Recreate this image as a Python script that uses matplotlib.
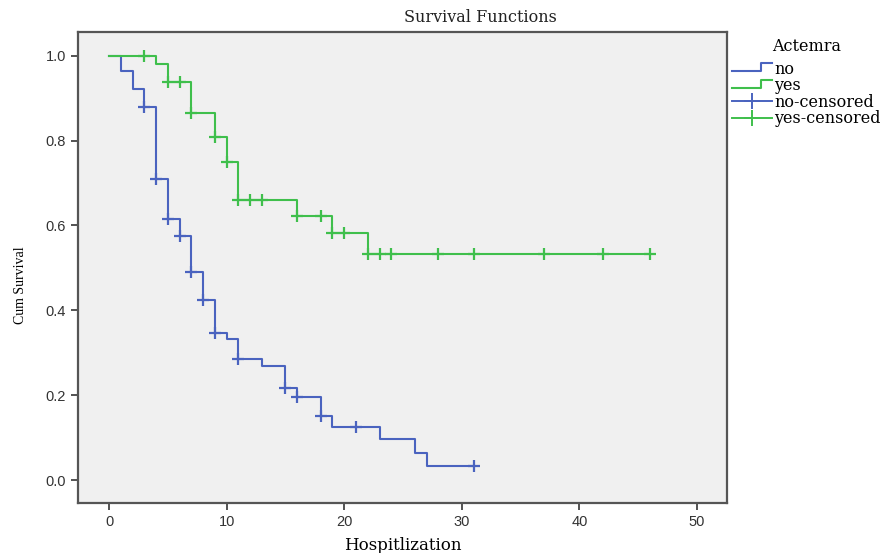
import numpy as np
import matplotlib
matplotlib.use('Agg')
import matplotlib.pyplot as plt
from matplotlib.lines import Line2D
from matplotlib.legend_handler import HandlerBase

plt.rcParams['font.family'] = ['Liberation Sans', 'DejaVu Sans']

# Kaplan-Meier steps
no_t = [0, 1, 2, 3, 4, 5, 6, 7, 8, 9, 10, 11, 13, 15, 16, 18, 19, 23, 26, 27, 31]
no_s = [1.0, 0.965, 0.922, 0.88, 0.71, 0.616, 0.575, 0.49, 0.424, 0.347, 0.332,
        0.285, 0.269, 0.216, 0.195, 0.152, 0.125, 0.096, 0.064, 0.033, 0.033]
no_cens_t = [3, 4, 5, 6, 7, 8, 9, 11, 15, 16, 18, 21, 31]
no_cens_s = [0.88, 0.71, 0.616, 0.575, 0.49, 0.424, 0.347, 0.285, 0.216, 0.195,
             0.152, 0.125, 0.033]

yes_t = [0, 4, 5, 7, 9, 10, 11, 16, 19, 22, 46]
yes_s = [1.0, 0.98, 0.937, 0.864, 0.808, 0.75, 0.66, 0.623, 0.582, 0.533, 0.533]
yes_cens_t = [3, 5, 6, 7, 9, 10, 11, 12, 13, 16, 18, 19, 20, 22, 23, 24, 28, 31, 37, 42, 46]
yes_cens_s = [1.0, 0.937, 0.937, 0.864, 0.808, 0.75, 0.66, 0.66, 0.66, 0.623, 0.623,
              0.582, 0.582, 0.533, 0.533, 0.533, 0.533, 0.533, 0.533, 0.533, 0.533]

x_ticks = [0, 10, 20, 30, 40, 50]
y_ticks = [0.0, 0.2, 0.4, 0.6, 0.8, 1.0]

blue = '#4a63bf'
green = '#3fbf4c'
serif = 'DejaVu Serif'


class StepHandler(HandlerBase):
    # draws the little step symbol used by SPSS for survival lines
    def create_artists(self, legend, orig_handle, xdescent, ydescent,
                       width, height, fontsize, trans):
        x0 = -xdescent
        xs = [x0, x0 + 0.72 * width, x0 + 0.72 * width, x0 + width]
        lo = -ydescent + 0.2 * height
        hi = -ydescent + 0.95 * height
        ln = Line2D(xs, [lo, lo, hi, hi], color=orig_handle.get_color(),
                    lw=orig_handle.get_linewidth())
        ln.set_transform(trans)
        return [ln]


fig = plt.figure(figsize=(8.9, 5.53), dpi=100)
ax = fig.add_axes([78 / 890, 1 - 503 / 553, (727 - 78) / 890, (503 - 32) / 553])
ax.set_facecolor('#f0f0f0')

l_no, = ax.step(no_t, no_s, where='post', color=blue, lw=1.5)
l_yes, = ax.step(yes_t, yes_s, where='post', color=green, lw=1.5)
ax.plot(no_cens_t, no_cens_s, ls='none', marker='+', ms=9, mew=1.6, color=blue)
ax.plot(yes_cens_t, yes_cens_s, ls='none', marker='+', ms=9, mew=1.6, color=green)

ax.set_xlim(-2.64, 52.55)
ax.set_ylim(-0.054, 1.056)
ax.set_xticks(x_ticks)
ax.set_yticks(y_ticks)
ax.set_yticklabels(['%.1f' % v for v in y_ticks])
ax.tick_params(direction='out', length=5, width=1.3, color='#444444',
               labelsize=10.5, labelcolor='#333333')
for sp in ax.spines.values():
    sp.set_color('#555555')
    sp.set_linewidth(1.6)

ax.set_xlabel('Hospitlization', family=serif, fontsize=12, labelpad=6)
ax.set_ylabel('Cum Survival', family='Liberation Serif', fontsize=10)
ax.yaxis.set_label_coords(-0.079, 0.463)
fig.text(480 / 890, 1 - 18 / 553, 'Survival Functions', family=serif,
         fontsize=11.5, ha='center', va='center', color='#222222')

h_nc = Line2D([], [], color=blue, marker='+', ms=11, mew=1.4, lw=1.4)
h_yc = Line2D([], [], color=green, marker='+', ms=11, mew=1.4, lw=1.4)
leg = fig.legend([l_no, l_yes, h_nc, h_yc], ['no', 'yes', 'no-censored', 'yes-censored'],
                 handler_map={l_no: StepHandler(), l_yes: StepHandler()},
                 loc='upper left', bbox_to_anchor=(729 / 890, 1 - 41 / 553),
                 frameon=False, title='Actemra', prop={'family': serif, 'size': 11.5},
                 title_fontproperties={'family': serif, 'size': 11.5},
                 handlelength=2.5, handletextpad=0.15, labelspacing=-0.03,
                 borderaxespad=0, borderpad=0.2)
leg.get_title().set_position((0, 6))

fig.savefig('out.png', dpi=100)
